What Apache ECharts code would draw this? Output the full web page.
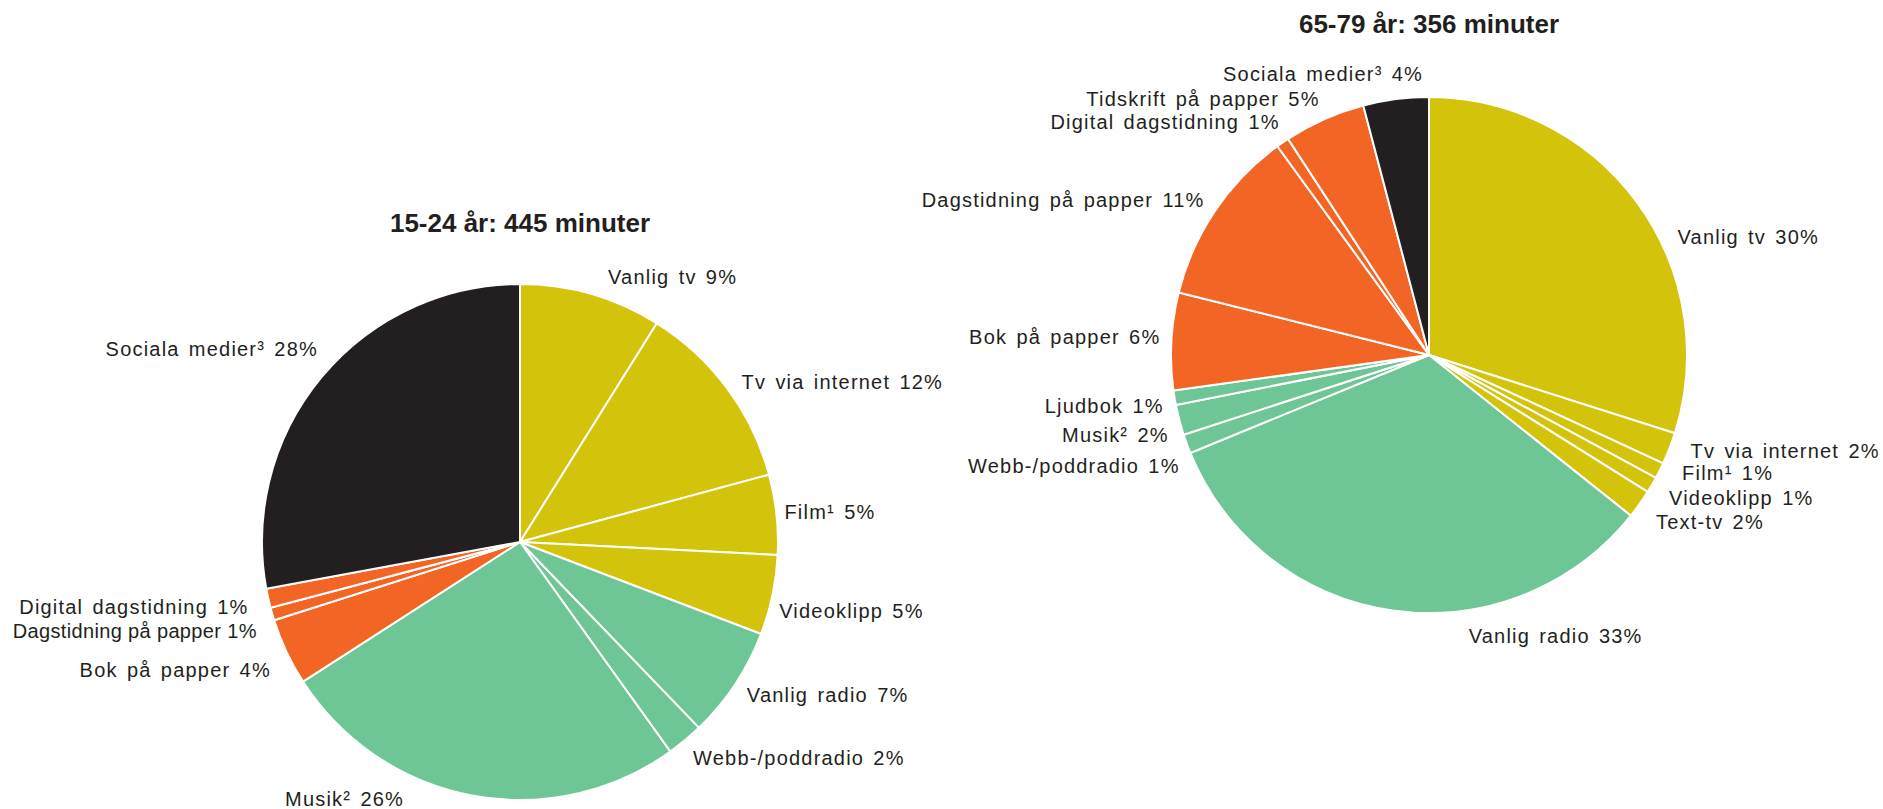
<!DOCTYPE html>
<html lang="sv">
<head>
<meta charset="utf-8">
<title>Tid med medier per dag</title>
<script src="https://cdn.jsdelivr.net/npm/echarts@6/dist/echarts.min.js"></script>
<style>
  html, body { margin: 0; padding: 0; background: #fff; }
  #chart { width: 1883px; height: 809px; }
  /* the source uses a slightly tracked sans serif for the labels */
  #chart text { letter-spacing: 1.2px; word-spacing: 2.5px; }
  #chart text[style*="bold"] { letter-spacing: 0; word-spacing: 0; }
  /* one label is set tighter in the original so it fits the left margin */
  #chart text[style*="Tight"] { letter-spacing: 0.35px; word-spacing: 0; }
</style>
</head>
<body>
<div id="chart"></div>
<script>
// 15-24 år: 445 minuter (andel av tiden, %)
const youngNames = ['Vanlig tv', 'Tv via internet', 'Film¹', 'Videoklipp', 'Vanlig radio', 'Webb-/poddradio',
  'Musik²', 'Bok på papper', 'Dagstidning på papper', 'Digital dagstidning', 'Sociala medier³']
const youngShares = [8.9, 11.9, 5.0, 5.0, 7.0, 2.3, 25.8, 4.2, 0.8, 1.2, 27.9]
const youngGroups = ['tv', 'tv', 'tv', 'tv', 'radio', 'radio', 'radio', 'print', 'print', 'print', 'social']

// 65-79 år: 356 minuter
const oldNames = ['Vanlig tv', 'Tv via internet', 'Film¹', 'Videoklipp', 'Text-tv', 'Vanlig radio', 'Webb-/poddradio',
  'Musik²', 'Ljudbok', 'Bok på papper', 'Dagstidning på papper', 'Digital dagstidning', 'Tidskrift på papper', 'Sociala medier³']
const oldShares = [29.9, 2.0, 1.0, 1.0, 1.8, 33.1, 1.2, 1.9, 0.9, 6.1, 11.1, 0.8, 5.1, 4.1]
const oldGroups = ['tv', 'tv', 'tv', 'tv', 'tv', 'radio', 'radio', 'radio', 'radio', 'print', 'print', 'print', 'print', 'social']

const titles = ['15-24 år: 445 minuter', '65-79 år: 356 minuter']

const groupColors = { tv: '#D3C30B', radio: '#6EC595', print: '#F26524', social: '#231F20' }

// hand nudges so the labels sit where the original put them [dx, dy, align]
const youngNudge = [[8, -4], [-2, 2], [-11, -1], [-12, 13], [-5, 3], [-6, 7], [-60, -10], [2, 12], [3, 13], [-1, 6], [12, -19]]
const oldNudge = [[24, 43], [3, -3], [5, -4], [0, 6], [0, 10], [83, 12, 'left'], [11, 17], [8, 12], [8, 6], [8, -3],
  [6, -3], [10, -9], [6, -7], [34, -11]]

const textColor = '#231F20'
const font = '"Liberation Sans", Arial, Helvetica, sans-serif'
const tightFont = '"Liberation Sans", Tight, Arial, sans-serif'

function toData(names, shares, groups, tightIndex) {
  return names.map((n, i) => {
    const item = {
      name: n,
      value: shares[i],
      itemStyle: { color: groupColors[groups[i]] }
    }
    if (i === tightIndex) item.label = { fontFamily: tightFont }
    return item
  })
}

function nudger(list) {
  return function (params) {
    const n = list[params.dataIndex] || [0, 0]
    const out = { dx: n[0], dy: n[1] }
    if (n[2]) out.align = n[2]
    return out
  }
}

function pieSeries(data, center, nudge) {
  return {
    type: 'pie',
    center: center,
    radius: 258,
    startAngle: 90,
    clockwise: true,
    avoidLabelOverlap: false,
    animation: false,
    data: data,
    itemStyle: { borderColor: '#fff', borderWidth: 2 },
    label: {
      show: true,
      position: 'outside',
      color: textColor,
      fontFamily: font,
      fontSize: 20,
      formatter: p => p.name + ' ' + Math.round(p.value) + '%'
    },
    labelLine: { show: false, length: 14, length2: 0 },
    labelLayout: nudger(nudge),
    emphasis: { disabled: true }
  }
}

const chart = echarts.init(document.getElementById('chart'), null, { renderer: 'svg' })

chart.setOption({
  backgroundColor: '#fff',
  title: [
    {
      text: titles[0], left: 520, top: 210, textAlign: 'center', padding: 0,
      textStyle: { fontFamily: font, fontSize: 26, fontWeight: 'bold', color: textColor }
    },
    {
      text: titles[1], left: 1429, top: 11, textAlign: 'center', padding: 0,
      textStyle: { fontFamily: font, fontSize: 26, fontWeight: 'bold', color: textColor }
    }
  ],
  series: [
    pieSeries(toData(youngNames, youngShares, youngGroups, 8), [520, 542], youngNudge),
    pieSeries(toData(oldNames, oldShares, oldGroups, -1), [1429, 355], oldNudge)
  ]
})

window.addEventListener('resize', () => chart.resize())
</script>
</body>
</html>
